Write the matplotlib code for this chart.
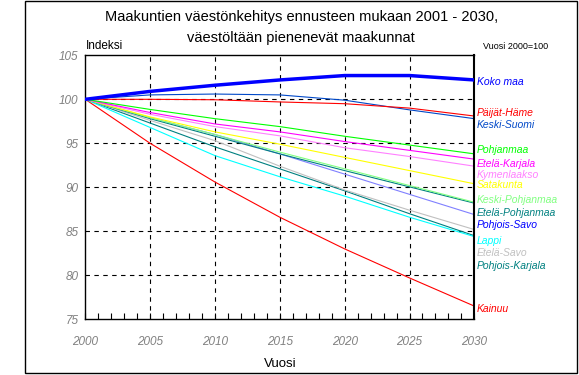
import matplotlib
matplotlib.use("Agg")
import matplotlib.pyplot as plt
from matplotlib.patches import Rectangle
from matplotlib.ticker import MultipleLocator

plt.rcParams["font.family"] = ["Liberation Sans", "DejaVu Sans"]

years = [2000, 2005, 2010, 2015, 2020, 2025, 2030]

# index values (2000 = 100) at 5-year points
koko_maa        = [100, 100.9, 101.6, 102.2, 102.7, 102.7, 102.2]
paijat_hame     = [100, 100.0, 99.95, 99.7, 99.5, 99.0, 98.1]
keski_suomi     = [100, 100.5, 100.6, 100.5, 99.9, 98.8, 97.8]
pohjanmaa       = [100, 98.85, 97.8, 96.9, 95.8, 94.8, 93.8]
etela_karjala   = [100, 98.5, 97.2, 96.3, 95.2, 94.2, 93.2]
kymenlaakso     = [100, 98.3, 96.9, 95.85, 94.5, 93.5, 92.4]
satakunta       = [100, 98.0, 96.3, 94.9, 93.4, 91.9, 90.4]
keski_pohjanmaa = [100, 97.9, 96.0, 94.0, 92.1, 90.2, 88.3]
etela_pohjanmaa = [100, 97.8, 95.8, 93.8, 91.9, 90.05, 88.2]
pohjois_savo    = [100, 97.9, 96.0, 93.8, 91.5, 89.2, 86.9]
etela_savo      = [100, 97.6, 95.3, 92.4, 89.7, 87.4, 85.2]
pohjois_karjala = [100, 97.3, 94.6, 92.1, 89.6, 87.0, 84.5]
lappi           = [100, 96.8, 93.6, 91.2, 89.0, 86.6, 84.4]
kainuu          = [100, 95.0, 90.6, 86.6, 83.0, 79.7, 76.5]

# (name, values, line colour, label colour, label y)
series = [
    ("Koko maa", koko_maa, "#0000ff", "#0000ff", 101.97),
    ("Päijät-Häme", paijat_hame, "#ff0000", "#ff0000", 98.44),
    ("Keski-Suomi", keski_suomi, "#0048c8", "#0048c8", 97.08),
    ("Pohjanmaa", pohjanmaa, "#00ff00", "#00ff00", 94.24),
    ("Etelä-Karjala", etela_karjala, "#ff00ff", "#ff00ff", 92.65),
    ("Kymenlaakso", kymenlaakso, "#ff80ff", "#ff80ff", 91.40),
    ("Satakunta", satakunta, "#ffff00", "#ffff00", 90.26),
    ("Keski-Pohjanmaa", keski_pohjanmaa, "#80ff80", "#80ff80", 88.56),
    ("Etelä-Pohjanmaa", etela_pohjanmaa, "#008080", "#008080", 87.08),
    ("Pohjois-Savo", pohjois_savo, "#8080ff", "#0000ff", 85.72),
    ("Lappi", lappi, "#00ffff", "#00ffff", 83.90),
    ("Etelä-Savo", etela_savo, "#c0c0c0", "#c0c0c0", 82.53),
    ("Pohjois-Karjala", pohjois_karjala, "#008080", "#008080", 81.06),
    ("Kainuu", kainuu, "#ff0000", "#ff0000", 76.17),
]

fig = plt.figure(figsize=(5.79, 3.75), dpi=100)
ax = fig.add_axes([0.1473, 0.1485, 0.672, 0.704])

# draw thin lines first, the thick national line on top
for name, vals, lc, tc, ly in series[::-1]:
    lw = 2.5 if name == "Koko maa" else 0.8
    ax.plot(years, vals, color=lc, lw=lw, zorder=3 if name == "Koko maa" else 2)
    ax.text(1.006, ly, name, transform=ax.get_yaxis_transform(), color=tc,
            fontsize=7.5, style="italic", va="center", ha="left", clip_on=False)

ax.set_xlim(2000, 2030)
ax.set_ylim(75, 105)
ax.set_xticks(years)
ax.set_yticks([75, 80, 85, 90, 95, 100, 105])
ax.xaxis.set_minor_locator(MultipleLocator(1))
ax.tick_params(axis="x", which="both", direction="in", length=4, width=0.8,
               pad=12, labelsize=8.5, labelcolor="#808080")
ax.tick_params(axis="y", length=0, pad=5, labelsize=8.5, labelcolor="#808080")
for lab in ax.get_xticklabels() + ax.get_yticklabels():
    lab.set_style("italic")

for x in years[1:-1]:
    ax.axvline(x, color="black", lw=0.8, ls=(0, (4, 4)), zorder=1)
for y in [80, 85, 90, 95, 100]:
    ax.axhline(y, color="black", lw=0.8, ls=(0, (4, 4)), zorder=1)
for sp in ax.spines.values():
    sp.set_linewidth(1.0)
ax.spines["right"].set_linewidth(1.5)

ax.set_xlabel("Vuosi", fontsize=9.5, labelpad=7)
fig.text(0.149, 0.877, "Indeksi", fontsize=8.5, ha="left", va="center")
fig.text(0.834, 0.877, "Vuosi 2000=100", fontsize=6.5, ha="left", va="center")
fig.text(0.52, 0.955, "Maakuntien väestönkehitys ennusteen mukaan 2001 - 2030,",
         fontsize=10.5, ha="center", va="center")
fig.text(0.52, 0.899, "väestöltään pienenevät maakunnat",
         fontsize=10.5, ha="center", va="center")

# outer frame
fig.patches.append(Rectangle((25 / 579, 2 / 375), 552 / 579, 372 / 375,
                             transform=fig.transFigure, fill=False,
                             edgecolor="black", lw=1.0))

fig.savefig("out.png", dpi=100)
